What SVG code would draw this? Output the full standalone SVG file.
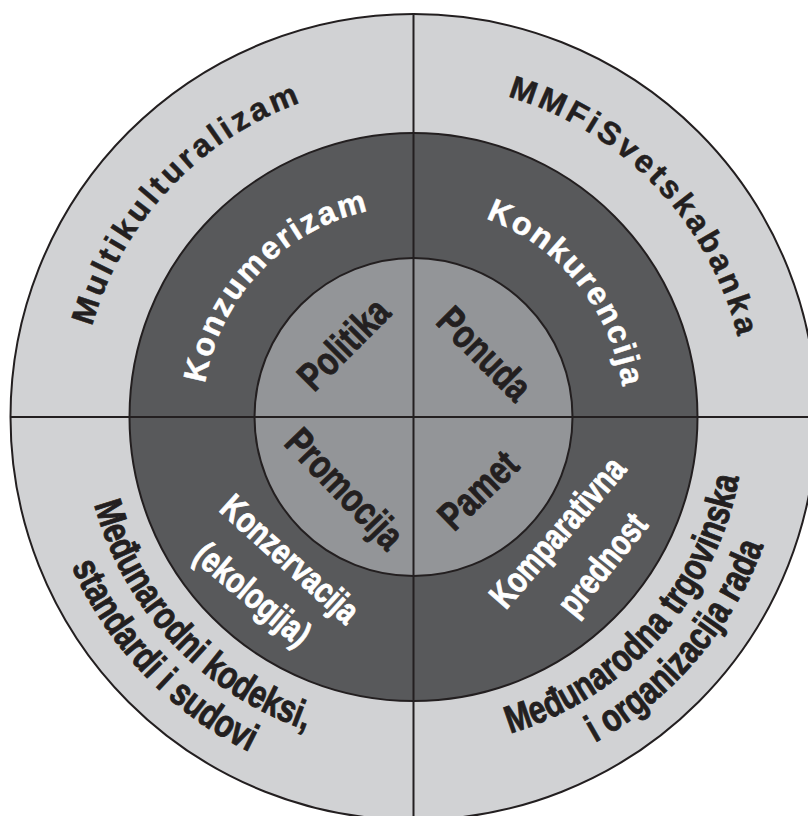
<svg xmlns="http://www.w3.org/2000/svg" width="808" height="816" viewBox="0 0 808 816">
<defs>
<style>
.ring{stroke:#231f20;stroke-width:2}
.div{stroke:#231f20;stroke-width:2;fill:none}
.wide{font-family:"Liberation Sans",Arial,sans-serif;font-weight:bold;font-size:32px;stroke-width:0.5px}
.cond{font-family:"Liberation Sans Narrow","Liberation Sans",Arial,sans-serif;font-weight:bold;stroke-width:0.9px}
.blk{fill:#231f20;stroke:#231f20}
.wht{fill:#ffffff;stroke:#ffffff}
</style>
<path id="arcOutTop" d="M79.5,417 A334,334 0 0 1 747.5,417"/>
<path id="arcMidTop" d="M202.5,417 A211,211 0 0 1 624.5,417"/>
<path id="arcBot1" d="M82.5,417 A331,331 0 0 0 744.5,417"/>
<path id="arcBot2" d="M40.5,417 A373,373 0 0 0 786.5,417"/>
</defs>
<rect width="808" height="816" fill="#ffffff"/>
<g id="rings">
<circle id="outer-ring" class="ring" cx="413.5" cy="417" r="403" fill="#d1d2d4"/>
<circle id="middle-ring" class="ring" cx="413.5" cy="417" r="284" fill="#58595b"/>
<circle id="inner-circle" class="ring" cx="413.5" cy="417" r="159" fill="#939598"/>
</g>
<g id="connectors">
<line class="div" x1="413.5" y1="14" x2="413.5" y2="816"/>
<line class="div" x1="10.5" y1="417" x2="808" y2="417"/>
</g>
<g id="multikulturalizam">
<text class="wide blk" letter-spacing="3.5" text-anchor="middle"><textPath href="#arcOutTop" startOffset="24.03%">Multikulturalizam</textPath></text>
</g>
<g id="mmf">
<text class="wide blk" letter-spacing="3.5" text-anchor="middle"><textPath href="#arcOutTop" startOffset="75.83%">MMFiSvetskabanka</textPath></text>
</g>
<g id="konzumerizam">
<text class="wide wht" letter-spacing="2.2" text-anchor="middle"><textPath href="#arcMidTop" startOffset="24.25%">Konzumerizam</textPath></text>
</g>
<g id="konkurencija">
<text class="wide wht" letter-spacing="2.2" text-anchor="middle"><textPath href="#arcMidTop" startOffset="78.4%">Konkurencija</textPath></text>
</g>
<g id="medjunarodni-kodeksi">
<text class="cond blk" font-size="39" text-anchor="middle"><textPath href="#arcBot1" startOffset="24%" textLength="322" lengthAdjust="spacingAndGlyphs">Međunarodni kodeksi,</textPath></text>
<text class="cond blk" font-size="39" text-anchor="middle"><textPath href="#arcBot2" startOffset="24.3%" textLength="262" lengthAdjust="spacingAndGlyphs">standardi i sudovi</textPath></text>
</g>
<g id="medjunarodna-trgovinska">
<text class="cond blk" font-size="39" text-anchor="middle"><textPath href="#arcBot1" startOffset="76.8%" textLength="361" lengthAdjust="spacingAndGlyphs">Međunarodna trgovinska</textPath></text>
<text class="cond blk" font-size="39" text-anchor="middle"><textPath href="#arcBot2" startOffset="77.5%" textLength="265" lengthAdjust="spacingAndGlyphs">i organizacija rada</textPath></text>
</g>
<g id="konzervacija">
<text class="cond wht" font-size="36" text-anchor="middle" dy="0.33em" textLength="172" lengthAdjust="spacingAndGlyphs" transform="translate(289.8,559.2) rotate(42)">Konzervacija</text>
<text class="cond wht" font-size="36" text-anchor="middle" dy="0.28em" textLength="139" lengthAdjust="spacingAndGlyphs" transform="translate(251.5,595.8) rotate(40)">(ekologija)</text>
</g>
<g id="komparativna">
<text class="cond wht" font-size="36" text-anchor="middle" dy="0.31em" textLength="186" lengthAdjust="spacingAndGlyphs" transform="translate(558.3,533) rotate(-49)">Komparativna</text>
<text class="cond wht" font-size="36" text-anchor="middle" dy="0.25em" textLength="119" lengthAdjust="spacingAndGlyphs" transform="translate(605,566) rotate(-51)">prednost</text>
</g>
<g id="politika">
<text class="cond blk" font-size="40" text-anchor="middle" dy="0.31em" textLength="111" lengthAdjust="spacingAndGlyphs" transform="translate(344.5,345) rotate(-45)">Politika</text>
</g>
<g id="ponuda">
<text class="cond blk" font-size="40" text-anchor="middle" dy="0.31em" textLength="114" lengthAdjust="spacingAndGlyphs" transform="translate(483.7,354.5) rotate(45)">Ponuda</text>
</g>
<g id="promocija">
<text class="cond blk" font-size="40" text-anchor="middle" dy="0.31em" textLength="150" lengthAdjust="spacingAndGlyphs" transform="translate(343.7,489.5) rotate(46)">Promocija</text>
</g>
<g id="pamet">
<text class="cond blk" font-size="40" text-anchor="middle" dy="0.31em" textLength="93.5" lengthAdjust="spacingAndGlyphs" transform="translate(479,491) rotate(-44)">Pamet</text>
</g>
</svg>
